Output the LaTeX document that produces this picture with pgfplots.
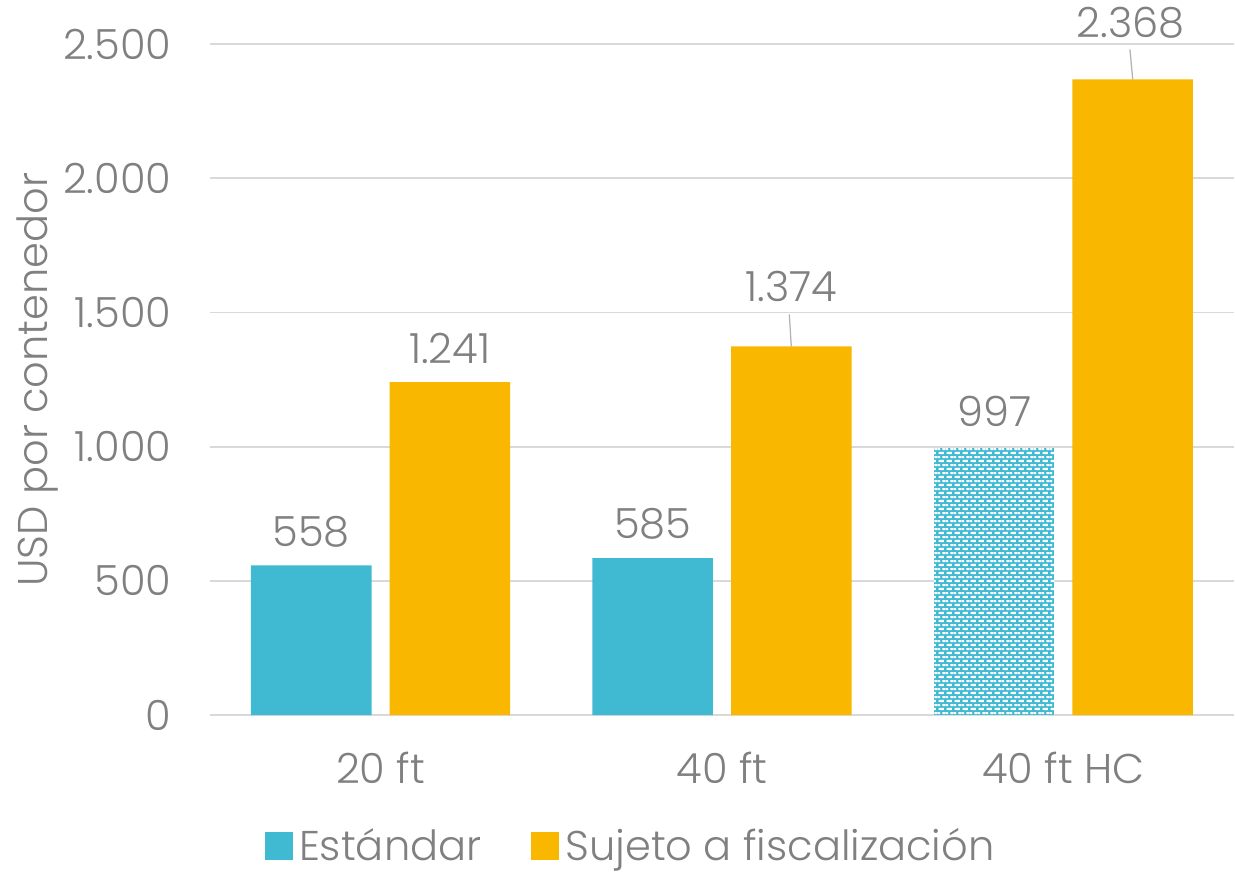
\documentclass[border=0pt]{standalone}
\usepackage{pgfplots}
\pgfplotsset{compat=1.18}
\usepackage{fontspec}
\setmainfont{Poppins}[UprightFont={* Light}]
\usetikzlibrary{patterns}
\definecolor{teal1}{RGB}{64,186,210}
\definecolor{orng}{RGB}{249,183,0}
\definecolor{txt}{RGB}{128,128,128}
\definecolor{gridc}{RGB}{217,217,217}
\pgfdeclarepatternformonly{mybrickdash}{\pgfqpoint{0pt}{0pt}}{\pgfqpoint{4pt}{4pt}}{\pgfqpoint{4pt}{4pt}}{%
  \pgfpathrectangle{\pgfqpoint{0.3pt}{0.5pt}}{\pgfqpoint{2.8pt}{1.1pt}}%
  \pgfpathrectangle{\pgfqpoint{2.3pt}{2.5pt}}{\pgfqpoint{1.7pt}{1.1pt}}%
  \pgfpathrectangle{\pgfqpoint{0pt}{2.5pt}}{\pgfqpoint{1.1pt}{1.1pt}}%
  \pgfusepath{fill}}
\begin{document}
\begin{tikzpicture}
\begin{axis}[
  scale only axis,
  width=493pt, height=323pt,
  xmin=-0.5, xmax=2.5,
  ymin=0, ymax=2500,
  xtick={0,1,2},
  xticklabels={20 ft,40 ft,40 ft HC},
  ytick={0,500,1000,1500,2000,2500},
  ymajorgrids,
  grid style={gridc, line width=0.8pt},
  axis line style={draw=none},
  major tick length=0pt,
  clip=false,
  font=\fontsize{20}{24}\selectfont,
  tick label style={txt},
  /pgf/number format/assume math mode=true,
  /pgf/number format/1000 sep={.},
  xticklabel style={yshift=-14pt},
  yticklabel style={xshift=-15pt},
  ylabel={USD por contenedor},
  ylabel style={txt, at={(rel axis cs:0,0.5)}, anchor=center, rotate=0, yshift=83pt, inner ysep=8pt},
  legend style={draw=none, at={(0.413,-0.195)}, anchor=center, legend columns=2,
    font=\fontsize{20}{24}\selectfont, text=txt, inner sep=4pt,
    /tikz/every even column/.append style={column sep=21pt},
    nodes={inner xsep=3pt}},
  legend image code/.code={\fill[#1] (0pt,-6.7pt) rectangle (13.4pt,6.7pt);},
]
\addplot[ybar, bar width=58pt, bar shift=-33.35pt, fill=teal1, draw=none] coordinates {(0,558) (1,585)};
\addlegendentry{Estándar}
\addplot[ybar, bar width=58pt, bar shift=33.35pt, fill=orng, draw=none] coordinates {(0,1241) (1,1374) (2,2368)};
\addlegendentry{Sujeto a fiscalización}
\addplot[ybar, bar width=58pt, bar shift=-33.35pt, fill=teal1, draw=none, forget plot,
  postaction={pattern=mybrickdash, pattern color=white}] coordinates {(2,997)};
% data labels
\node[txt, xshift=-33.35pt, yshift=16.3pt] at (axis cs:0,558) {558};
\node[txt, xshift=-33.35pt, yshift=16.3pt] at (axis cs:1,585) {585};
\node[txt, xshift=-33.35pt, yshift=17.3pt] at (axis cs:2,997) {997};
\node[txt, xshift=33.35pt, yshift=16.3pt] at (axis cs:0,1241) {1.241};
\node[txt, xshift=33.35pt, yshift=28.8pt] at (axis cs:1,1374) {1.374};
\node[txt, xshift=32.4pt, yshift=27.4pt] at (axis cs:2,2368) {2.368};
\draw[gray!60, line width=0.6pt] ([xshift=32.4pt,yshift=15.4pt]axis cs:1,1374) -- ([xshift=33.35pt]axis cs:1,1374);
\draw[gray!60, line width=0.6pt] ([xshift=32pt,yshift=14.5pt]axis cs:2,2368) -- ([xshift=33.35pt]axis cs:2,2368);
\end{axis}
\end{tikzpicture}
\end{document}
